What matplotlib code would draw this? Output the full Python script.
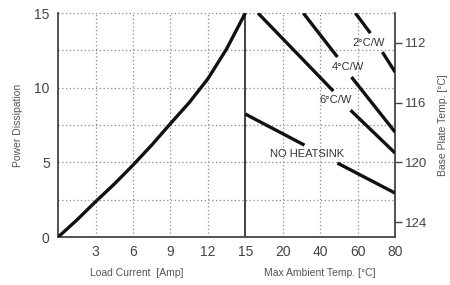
import numpy as np
import matplotlib
matplotlib.use('Agg')
import matplotlib.pyplot as plt

plt.rcParams['font.family'] = ['Liberation Sans Narrow', 'Liberation Sans', 'DejaVu Sans']

# left half: power dissipation vs load current
current = [0, 1.5, 3, 4.5, 6, 7.5, 9, 10.5, 12, 13.5, 15]
power = [0, 1.14, 2.37, 3.55, 4.82, 6.16, 7.6, 9.0, 10.6, 12.6, 15]

# right half: derating lines vs max ambient temperature (two pieces each, gap for label)
temp_ticks = [15, 20, 40, 60, 80]
nohs_t = [[15, 31.6], [49.2, 80]]
nohs_p = [[8.24, 6.16], [4.96, 2.95]]
c6_t = [[16.7, 47], [56.2, 80]]
c6_p = [[15, 9.78], [8.5, 5.63]]
c4_t = [[31, 49.2], [56.7, 80]]
c4_p = [[15, 12.06], [10.72, 7.03]]
c2_t = [[58.8, 66.8], [73.2, 80]]
c2_p = [[15, 13.66], [12.39, 11.05]]

labels = ['2°C/W', '4°C/W', '6°C/W', 'NO HEATSINK']
label_t = [65.8, 55, 48.2, 33.2]
label_p = [13.0, 11.4, 9.18, 5.56]

xtick_labels = ['3', '6', '9', '12', '15', '20', '40', '60', '80']
base_ticks = [112, 116, 120, 124]


def tpos(t):
    # 15..80 degC mapped onto grid units 5..9
    return np.interp(t, temp_ticks, [5, 6, 7, 8, 9])


fig = plt.figure(figsize=(4.5, 2.85), dpi=100)
ax = fig.add_axes([0.129, 0.168, 0.749, 0.786])

ax.set_xlim(0, 9)
ax.set_ylim(0, 15)

gc = '#8a8a8a'
for gx in [1, 2, 3, 4, 6, 7, 8]:
    ax.axvline(gx, color=gc, lw=0.9, ls=(0, (1, 2)), zorder=1)
for gy in [2.5, 5, 7.5, 10, 12.5, 15]:
    ax.axhline(gy, color=gc, lw=0.9, ls=(0, (1, 2)), zorder=1, clip_on=False)
ax.axvline(5, color='#333333', lw=1.3, zorder=2)

lc = '#111111'
ax.plot(np.array(current) / 3.0, power, color=lc, lw=2.4, zorder=3, solid_capstyle='butt')
for tt, pp in [(nohs_t, nohs_p), (c6_t, c6_p), (c4_t, c4_p), (c2_t, c2_p)]:
    for t, p in zip(tt, pp):
        ax.plot(tpos(t), p, color=lc, lw=2.4, zorder=3, solid_capstyle='butt')

for s, t, p in zip(labels, label_t, label_p):
    ax.text(tpos(t), p, s, ha='center', va='center', fontsize=8, color='#333333')

ax.spines['top'].set_visible(False)
for s in ['left', 'bottom', 'right']:
    ax.spines[s].set_color('#444444')
    ax.spines[s].set_linewidth(1.3)

ax.set_xticks(range(1, 10))
ax.set_xticklabels(xtick_labels)
ax.set_yticks([0, 5, 10, 15])
ax.tick_params(axis='both', length=0, labelsize=10, labelcolor='#444444', pad=6)

ax.set_ylabel('Power Dissipation', fontsize=7.5, color='#555555', labelpad=8)
ax.text(2.1, -0.14, 'Load Current  [Amp]', transform=ax.get_xaxis_transform(),
        ha='center', va='top', fontsize=7.5, color='#555555')
ax.text(7.0, -0.14, 'Max Ambient Temp. [°C]', transform=ax.get_xaxis_transform(),
        ha='center', va='top', fontsize=7.5, color='#555555')

ax2 = ax.twinx()
ax2.set_ylim(125, 110)
ax2.set_yticks(base_ticks)
ax2.tick_params(axis='y', length=5, width=1, color='#444444', labelsize=9.5,
                labelcolor='#444444', pad=2)
for s in ['top', 'left', 'bottom', 'right']:
    ax2.spines[s].set_visible(False)
ax2.set_ylabel('Base Plate Temp. [°C]', fontsize=7.5, color='#555555', labelpad=8)

fig.savefig('out.png', dpi=100)
